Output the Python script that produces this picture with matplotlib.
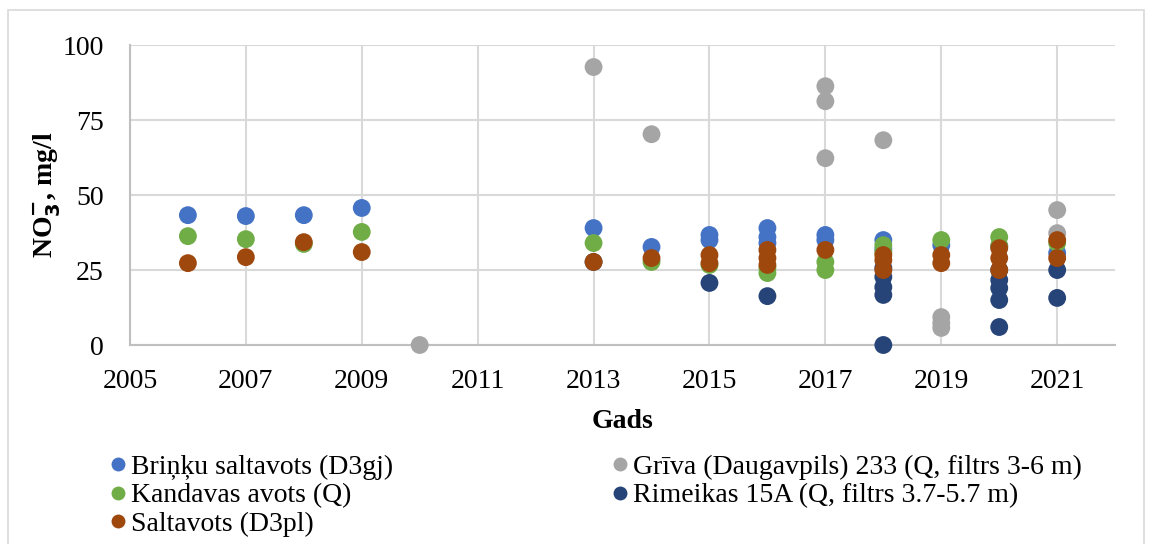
import matplotlib.pyplot as plt
from matplotlib.patches import Rectangle
from matplotlib.lines import Line2D

plt.rcParams['font.family'] = ['Liberation Serif', 'DejaVu Serif']

# measurement years and NO3 concentrations (mg/l) per monitoring point
brinku_years = [2006, 2007, 2008, 2009, 2013, 2014, 2015, 2015, 2016, 2016, 2016,
                2017, 2017, 2018, 2018, 2019, 2020, 2021]
brinku_vals = [43.3, 43.0, 43.3, 45.7, 39.0, 32.7, 36.7, 35.0, 39.0, 36.0, 34.0,
               36.7, 35.0, 35.0, 32.0, 33.3, 33.0, 30.7]

griva_years = [2010, 2013, 2014, 2017, 2017, 2017, 2018, 2019, 2019, 2019, 2021, 2021]
griva_vals = [0.0, 92.7, 70.3, 86.3, 81.3, 62.3, 68.3, 9.3, 7.3, 5.7, 45.0, 37.3]

kandavas_years = [2006, 2007, 2008, 2009, 2013, 2014, 2015, 2016, 2016, 2017, 2017,
                  2018, 2018, 2019, 2020, 2020, 2021]
kandavas_vals = [36.3, 35.3, 33.7, 37.7, 34.0, 27.7, 26.7, 24.0, 25.7, 27.7, 25.0,
                 33.3, 31.0, 35.0, 36.0, 33.0, 34.0]

rimeikas_years = [2013, 2015, 2016, 2018, 2018, 2018, 2018, 2018, 2020, 2020, 2020,
                  2020, 2020, 2021, 2021]
rimeikas_vals = [27.7, 20.7, 16.3, 25.7, 22.7, 19.3, 16.7, 0.0, 25.0, 21.7, 19.0,
                 15.0, 6.0, 25.0, 15.7]

saltavots_years = [2006, 2007, 2008, 2009, 2013, 2014, 2015, 2015, 2016, 2016, 2016,
                   2017, 2018, 2018, 2018, 2019, 2019, 2020, 2020, 2020, 2021, 2021]
saltavots_vals = [27.3, 29.3, 34.3, 31.0, 27.7, 29.0, 30.0, 27.3, 31.7, 29.0, 26.7,
                  31.7, 30.0, 28.3, 25.0, 30.0, 27.3, 32.3, 29.0, 25.0, 35.0, 29.0]

series = [
    ('Briņķu saltavots (D3gj)', brinku_years, brinku_vals, '#4472C4'),
    ('Grīva (Daugavpils) 233 (Q, filtrs 3-6 m)', griva_years, griva_vals, '#A5A5A5'),
    ('Kandavas avots (Q)', kandavas_years, kandavas_vals, '#70AD47'),
    ('Rimeikas 15A (Q, filtrs 3.7-5.7 m)', rimeikas_years, rimeikas_vals, '#264478'),
    ('Saltavots (D3pl)', saltavots_years, saltavots_vals, '#9E480E'),
]

fig = plt.figure(figsize=(11.52, 5.44), dpi=100)
ax = fig.add_axes([0.1128, 0.3658, 0.8552, 0.5512])

# chart frame
fig.patches.append(Rectangle((8 / 1152, -0.05), 1136 / 1152, 1 - 10 / 544 + 0.05,
                             transform=fig.transFigure, fill=False,
                             edgecolor='#d9d9d9', linewidth=1.2))

handles = {}
for name, xs, ys, col in series:
    ax.scatter(xs, ys, s=165, color=col, edgecolors='none', zorder=3, clip_on=False)
    handles[name] = Line2D([], [], marker='o', linestyle='none', color=col,
                           markersize=10, markeredgewidth=0)

ax.set_xlim(2005, 2022)
ax.set_ylim(0, 100)
ax.set_xticks(range(2005, 2022, 2))
ax.set_yticks([0, 25, 50, 75, 100])
ax.tick_params(length=0, labelsize=20)
ax.tick_params(axis='x', pad=17)
ax.tick_params(axis='y', pad=19)
ax.grid(True, color='#d9d9d9', linewidth=1.5)
ax.set_axisbelow(True)
for side in ('top', 'right'):
    ax.spines[side].set_visible(False)
for side in ('left', 'bottom'):
    ax.spines[side].set_color('#bfbfbf')
    ax.spines[side].set_linewidth(1.5)

ax.set_xlabel('Gads', fontsize=20, fontweight='bold', labelpad=11)
ax.set_ylabel('NO$_\\mathbf{3}^{\\mathbf{-}}$, mg/l', fontsize=20, fontweight='bold', labelpad=0)

order = ['Briņķu saltavots (D3gj)', 'Kandavas avots (Q)', 'Saltavots (D3pl)',
         'Grīva (Daugavpils) 233 (Q, filtrs 3-6 m)', 'Rimeikas 15A (Q, filtrs 3.7-5.7 m)']
fig.legend([handles[k] for k in order], order, loc='upper left',
           bbox_to_anchor=(100 / 1152, 1 - 443 / 544), ncol=2, frameon=False,
           fontsize=20, handlelength=0.5, handletextpad=0.2, columnspacing=7.95,
           labelspacing=0.12, borderaxespad=0)

fig.savefig('out.png', dpi=100)
